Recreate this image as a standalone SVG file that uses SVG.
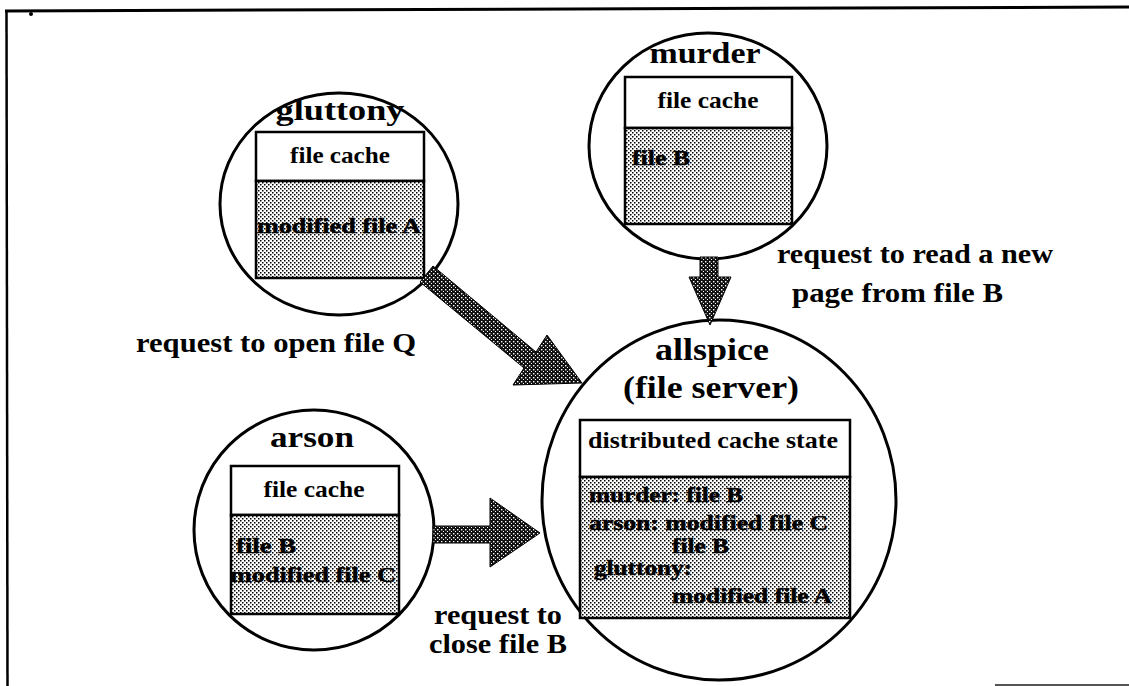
<svg xmlns="http://www.w3.org/2000/svg" width="1129" height="686" viewBox="0 0 1129 686">
  <defs>
    <!-- light stipple for cache contents -->
    <pattern id="stipple" width="4" height="4" patternUnits="userSpaceOnUse">
      <rect width="4" height="4" fill="#ffffff"/>
      <rect x="0" y="0" width="1.5" height="1.5" fill="#000"/>
      <rect x="2" y="2" width="1.5" height="1.5" fill="#000"/>
    </pattern>
    <!-- dark stipple for the request arrows -->
    <pattern id="darkStipple" width="4" height="4" patternUnits="userSpaceOnUse">
      <rect width="4" height="4" fill="#111"/>
      <rect x="1" y="1" width="1.4" height="1.4" fill="#fff"/>
      <rect x="3" y="3" width="1.4" height="1.4" fill="#fff"/>
    </pattern>
  </defs>
  <style>
    .host { fill: #fff; stroke: #000; stroke-width: 3; }
    .box { fill: #fff; stroke: #000; stroke-width: 2.5; }
    .shade { fill: url(#stipple); stroke: #000; stroke-width: 2.5; }
    .arrow { fill: url(#darkStipple); stroke: #000; stroke-width: 1; }
    text { font-family: "Liberation Serif", "Times New Roman", serif; font-weight: bold; fill: #000; }
    .name { font-size: 30px; }
    .server { font-size: 31px; }
    .head { font-size: 23px; }
    .item { font-size: 22px; stroke: #000; stroke-width: 0.5; }
    .state { font-size: 20px; stroke: #000; stroke-width: 0.5; }
    .req { font-size: 27px; }
    .mid { text-anchor: middle; }
  </style>

  <rect width="1129" height="686" fill="#fff"/>

  <!-- page frame -->
  <g id="frame" fill="none" stroke="#000">
    <line x1="5" y1="11" x2="1129" y2="7" stroke-width="3"/>
    <line x1="6.5" y1="10" x2="7.5" y2="686" stroke-width="2.5"/>
    <line x1="995" y1="685" x2="1129" y2="685" stroke-width="2" stroke="#555"/>
    <circle cx="31" cy="14" r="2" fill="#000" stroke="none"/>
  </g>

  <!-- client: gluttony -->
  <g id="node-gluttony">
    <ellipse class="host" cx="339" cy="204" rx="119" ry="111"/>
    <text class="name mid" x="340" y="120" textLength="129" lengthAdjust="spacingAndGlyphs">gluttony</text>
    <rect class="box" x="256" y="132" width="168" height="49"/>
    <rect class="shade" x="256" y="181" width="168" height="97"/>
    <text class="head mid" x="340" y="163" textLength="100" lengthAdjust="spacingAndGlyphs">file cache</text>
    <text class="item" x="257" y="233" textLength="164" lengthAdjust="spacingAndGlyphs">modified file A</text>
  </g>

  <!-- client: murder -->
  <g id="node-murder">
    <ellipse class="host" cx="708" cy="146" rx="119" ry="113"/>
    <text class="name mid" x="705" y="63" textLength="111" lengthAdjust="spacingAndGlyphs">murder</text>
    <rect class="box" x="625" y="77" width="167" height="51"/>
    <rect class="shade" x="625" y="128" width="167" height="96"/>
    <text class="head mid" x="708" y="108" textLength="101" lengthAdjust="spacingAndGlyphs">file cache</text>
    <text class="item" x="632" y="165" textLength="58" lengthAdjust="spacingAndGlyphs">file B</text>
  </g>

  <!-- client: arson -->
  <g id="node-arson">
    <ellipse class="host" cx="314" cy="530" rx="120" ry="120"/>
    <text class="name mid" x="312" y="447" textLength="84" lengthAdjust="spacingAndGlyphs">arson</text>
    <rect class="box" x="231" y="466" width="168" height="49"/>
    <rect class="shade" x="231" y="515" width="168" height="99"/>
    <text class="head mid" x="314" y="497" textLength="101" lengthAdjust="spacingAndGlyphs">file cache</text>
    <text class="item" x="236" y="553" textLength="60" lengthAdjust="spacingAndGlyphs">file B</text>
    <text class="item" x="230" y="582" textLength="166" lengthAdjust="spacingAndGlyphs">modified file C</text>
  </g>

  <!-- file server: allspice -->
  <g id="node-allspice">
    <ellipse class="host" cx="719" cy="500" rx="177" ry="180"/>
    <text class="server mid" x="712" y="360" textLength="114" lengthAdjust="spacingAndGlyphs">allspice</text>
    <text class="server mid" x="711" y="398" textLength="176" lengthAdjust="spacingAndGlyphs">(file server)</text>
    <rect class="box" x="580" y="420" width="270" height="57"/>
    <rect class="shade" x="580" y="477" width="270" height="141"/>
    <text class="head" x="588" y="448" textLength="250" lengthAdjust="spacingAndGlyphs">distributed cache state</text>
    <text class="state" x="589" y="502" textLength="154" lengthAdjust="spacingAndGlyphs">murder: file B</text>
    <text class="state" x="589" y="530" textLength="239" lengthAdjust="spacingAndGlyphs">arson: modified file C</text>
    <text class="state" x="672" y="553" textLength="57" lengthAdjust="spacingAndGlyphs">file B</text>
    <text class="state" x="594" y="575" textLength="98" lengthAdjust="spacingAndGlyphs">gluttony:</text>
    <text class="state" x="672" y="603" textLength="160" lengthAdjust="spacingAndGlyphs">modified file A</text>
  </g>

  <!-- requests sent to the server -->
  <g id="connectors">
    <polygon class="arrow" points="433,266 536,352 547,335 582,383 513,385 524,368 420,282"/>
    <polygon class="arrow" points="700,257 718,257 718,277 731,277 710,325 689,277 700,277"/>
    <polygon class="arrow" points="433,526 490,526 490,498 540,533 490,567 490,543 433,543"/>
    <text class="req mid" x="276" y="352" textLength="280" lengthAdjust="spacingAndGlyphs">request to open file Q</text>
    <text class="req" x="777" y="263" textLength="276" lengthAdjust="spacingAndGlyphs">request to read a new</text>
    <text class="req" x="792" y="302" textLength="211" lengthAdjust="spacingAndGlyphs">page from file B</text>
    <text class="req" x="434" y="624" textLength="128" lengthAdjust="spacingAndGlyphs">request to</text>
    <text class="req" x="429" y="653" textLength="138" lengthAdjust="spacingAndGlyphs">close file B</text>
  </g>
</svg>
